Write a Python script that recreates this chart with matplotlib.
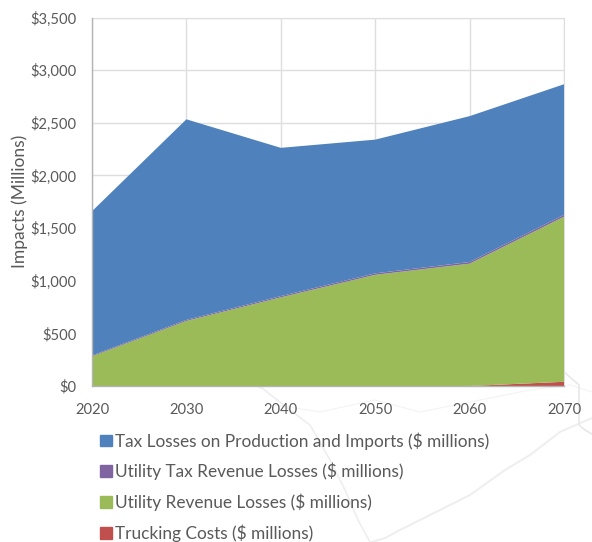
import numpy as np
import matplotlib
matplotlib.use("Agg")
import matplotlib.pyplot as plt
from matplotlib.patches import Patch

plt.rcParams['font.family'] = ['Lato', 'DejaVu Sans']

years = [2020, 2030, 2040, 2050, 2060, 2070]
trucking = [0, 0, 0, 0, 0, 40]
utility_rev = [282, 618, 842, 1056, 1162, 1568]
utility_tax = [8, 10, 12, 14, 16, 18]
tax_losses = [1370, 1905, 1408, 1270, 1385, 1240]

labels = ['Trucking Costs ($ millions)', 'Utility Revenue Losses ($ millions)',
          'Utility Tax Revenue Losses ($ millions)', 'Tax Losses on Production and Imports ($ millions)']
colors = ['#C0504D', '#9BBB59', '#8064A2', '#4F81BD']
yticks = [0, 500, 1000, 1500, 2000, 2500, 3000, 3500]

# faint map behind the chart, in image pixels
coast_x = [592, 560, 530, 505, 470, 430, 400, 385, 372]
coast_y = [418, 432, 455, 470, 495, 515, 530, 538, 542]
river_x = [225, 262, 290, 310, 330, 345, 358, 370]
river_y = [372, 388, 410, 425, 460, 490, 520, 542]
road_x = [275, 320, 375, 420, 470, 530, 570, 592]
road_y = [405, 412, 400, 412, 402, 390, 385, 392]
border_x = [564, 579, 579, 585, 592]
border_y = [372, 385, 425, 430, 434]

fig = plt.figure(figsize=(5.92, 5.42), dpi=100)

bg = fig.add_axes([0, 0, 1, 1], zorder=0)
bg.set_xlim(0, 592)
bg.set_ylim(542, 0)
bg.axis('off')
bg.plot(coast_x, coast_y, color='#eeeeee', lw=1.4)
bg.plot(river_x, river_y, color='#eeeeee', lw=1.2)
bg.plot(road_x, road_y, color='#f3f3f3', lw=0.8)
bg.plot(border_x, border_y, color='#e8e8e8', lw=1.2)

ax = fig.add_axes([92/592, 1-386/542, 472/592, 368.5/542], zorder=1)
ax.patch.set_alpha(0)
ax.stackplot(years, trucking, utility_rev, utility_tax, tax_losses, colors=colors, lw=0, zorder=3)

ax.set_xlim(2020, 2070)
ax.set_ylim(0, 3500)
ax.set_xticks(years)
ax.set_yticks(yticks)
ax.set_yticklabels(['${:,}'.format(v) for v in yticks])
ax.grid(True, color='#dedede', lw=1.0, zorder=0)
ax.set_axisbelow(True)
ax.tick_params(length=0, labelsize=10.6, labelcolor='#595959')
ax.tick_params(axis='x', pad=12)
ax.tick_params(axis='y', pad=11)
for s in ['top', 'right']:
    ax.spines[s].set_color('#dedede')
for s in ['left', 'bottom']:
    ax.spines[s].set_color('#b4b4b4')
    ax.spines[s].set_linewidth(1.0)
    ax.spines[s].set_zorder(5)
ax.set_ylabel('Impacts (Millions)', fontsize=12.5, color='#595959')
ax.yaxis.set_label_coords((28-92)/472, 0.5)

handles = [Patch(color=c) for c in colors[::-1]]
leg = fig.legend(handles, labels[::-1], loc='upper left', bbox_to_anchor=(100/592, 1-432/542),
                 frameon=False, fontsize=12.4, labelcolor='#595959', handlelength=0.68, handleheight=0.68,
                 handletextpad=0.2, labelspacing=0.78, borderaxespad=0, borderpad=0)

fig.savefig('out.png', dpi=100)
